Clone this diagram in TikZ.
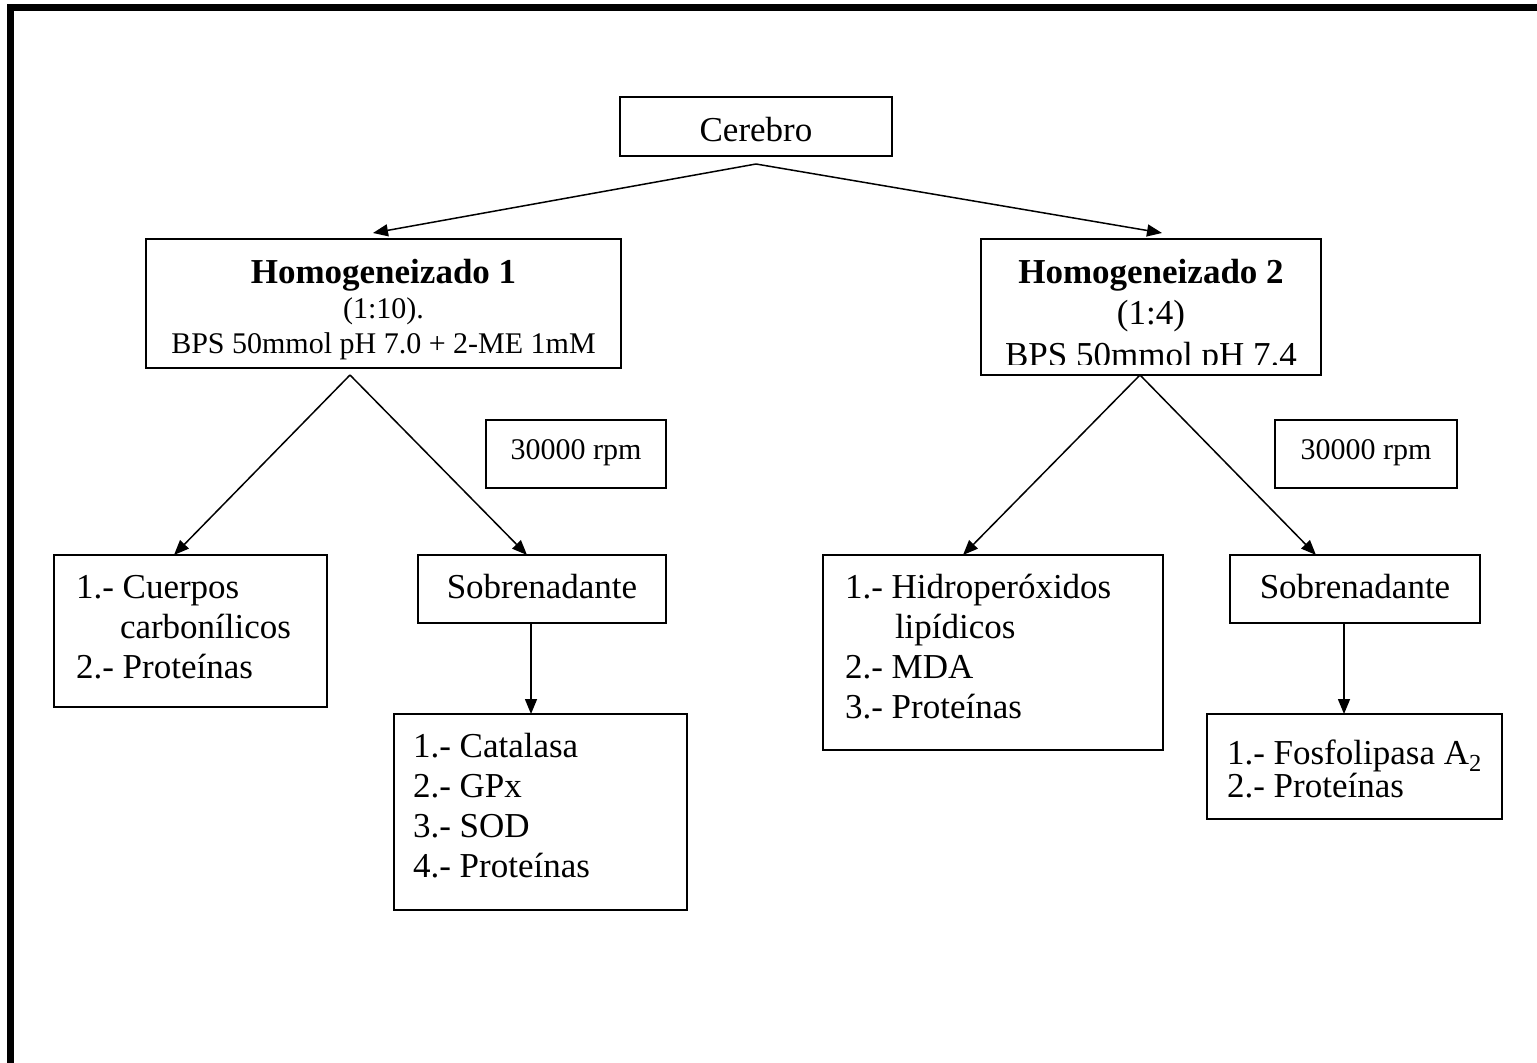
\documentclass[tikz,border=0pt]{standalone}
\usepackage{fontspec}
\setmainfont{Liberation Serif}
\usetikzlibrary{arrows.meta}
\begin{document}
\begin{tikzpicture}[x=1pt,y=-1pt,
  boxn/.style={draw, line width=2pt, inner sep=0pt, outer sep=0pt},
  arr/.style={line width=1.5pt, -{Triangle[length=15pt,width=12pt]}},
  txt/.style={inner sep=0pt, outer sep=0pt, font=\fontsize{35}{40}\selectfont},
  txtb/.style={inner sep=0pt, outer sep=0pt, font=\fontsize{35}{40}\selectfont\bfseries},
  txts/.style={inner sep=0pt, outer sep=0pt, font=\fontsize{30}{35}\selectfont},
  framel/.style={line width=7pt}]
\useasboundingbox (0,0) rectangle (1537,1063);
\clip (0,0) rectangle (1537,1063);
\fill[white] (0,0) rectangle (1537,1063);
% frame
\draw[framel] (10.5,1120) -- (10.5,7) -- (1600,7);

% boxes
\node[boxn, minimum width=272pt, minimum height=59pt] (cer) at (756,126.5) {};
\node[boxn, minimum width=475pt, minimum height=129pt] (h1) at (383.5,303.5) {};
\node[boxn, minimum width=340pt, minimum height=136pt] (h2) at (1151,307) {};
\node[boxn, minimum width=180pt, minimum height=68pt] (rpm1) at (576,454) {};
\node[boxn, minimum width=182pt, minimum height=68pt] (rpm2) at (1366,454) {};
\node[boxn, minimum width=273pt, minimum height=152pt] (cue) at (190.5,631) {};
\node[boxn, minimum width=248pt, minimum height=68pt] (sobL) at (542,589) {};
\node[boxn, minimum width=293pt, minimum height=196pt] (cat) at (540.5,812) {};
\node[boxn, minimum width=340pt, minimum height=195pt] (hid) at (993,652.5) {};
\node[boxn, minimum width=250pt, minimum height=68pt] (sobR) at (1355,589) {};
\node[boxn, minimum width=295pt, minimum height=105pt] (fos) at (1354.5,766.5) {};

% texts
\node[txt, anchor=base] (tcer) at (756,141) {Cerebro};
\node[txtb, anchor=base] (th1a) at (383.5,283) {Homogeneizado 1};
\node[txts, anchor=base] (th1b) at (383.5,318) {(1:10).};
\node[txts, anchor=base] (th1c) at (383.5,353) {BPS 50mmol pH 7.0 + 2-ME 1mM};
\node[txtb, anchor=base] (th2a) at (1151,283) {Homogeneizado 2};
\node[txt, anchor=base] (th2b) at (1151,324) {(1:4)};
\begin{scope}
\clip (982,300) rectangle (1320,364);
\node[txt, anchor=base] (th2c) at (1151,366) {BPS 50mmol pH 7.4};
\end{scope}
\node[txts, anchor=base] (trpm1) at (576,459) {30000 rpm};
\node[txts, anchor=base] (trpm2) at (1366,459) {30000 rpm};
\node[txt, anchor=base west] (tcue1) at (76,598) {1.- Cuerpos};
\node[txt, anchor=base west] (tcue2) at (120,638) {carbonílicos};
\node[txt, anchor=base west] (tcue3) at (76,678) {2.- Proteínas};
\node[txt, anchor=base] (tsobL) at (542,598) {Sobrenadante};
\node[txt, anchor=base west] (tcat1) at (413,757) {1.- Catalasa};
\node[txt, anchor=base west] (tcat2) at (413,797) {2.- GPx};
\node[txt, anchor=base west] (tcat3) at (413,837) {3.- SOD};
\node[txt, anchor=base west] (tcat4) at (413,877) {4.- Proteínas};
\node[txt, anchor=base west] (thid1) at (845,598) {1.- Hidroperóxidos};
\node[txt, anchor=base west] (thid2) at (895,638) {lipídicos};
\node[txt, anchor=base west] (thid3) at (845,678) {2.- MDA};
\node[txt, anchor=base west] (thid4) at (845,718) {3.- Proteínas};
\node[txt, anchor=base] (tsobR) at (1355,598) {Sobrenadante};
\node[txt, anchor=base west] (tfos1) at (1227,764) {1.- Fosfolipasa A\textsubscript{2}};
\node[txt, anchor=base west] (tfos2) at (1227,797) {2.- Proteínas};

% connectors
\draw[arr] ([yshift=-8pt]cer.south) -- ([xshift=-10.5pt,yshift=6pt]h1.north);
\draw[arr] ([yshift=-8pt]cer.south) -- ([xshift=11pt,yshift=6pt]h2.north);
\draw[arr] ([xshift=-33.5pt,yshift=-7pt]h1.south) -- ([xshift=-16.5pt]cue.north);
\draw[arr] ([xshift=-33.5pt,yshift=-7pt]h1.south) -- ([xshift=-15pt]sobL.north);
\draw[arr] ([xshift=-11pt]sobL.south) -- ([xshift=-9.5pt]cat.north);
\draw[arr] ([xshift=-11pt]h2.south) -- ([xshift=-30pt]hid.north);
\draw[arr] ([xshift=-11pt]h2.south) -- ([xshift=-39pt]sobR.north);
\draw[arr] ([xshift=-11pt]sobR.south) -- ([xshift=-10.5pt]fos.north);
\end{tikzpicture}
\end{document}
